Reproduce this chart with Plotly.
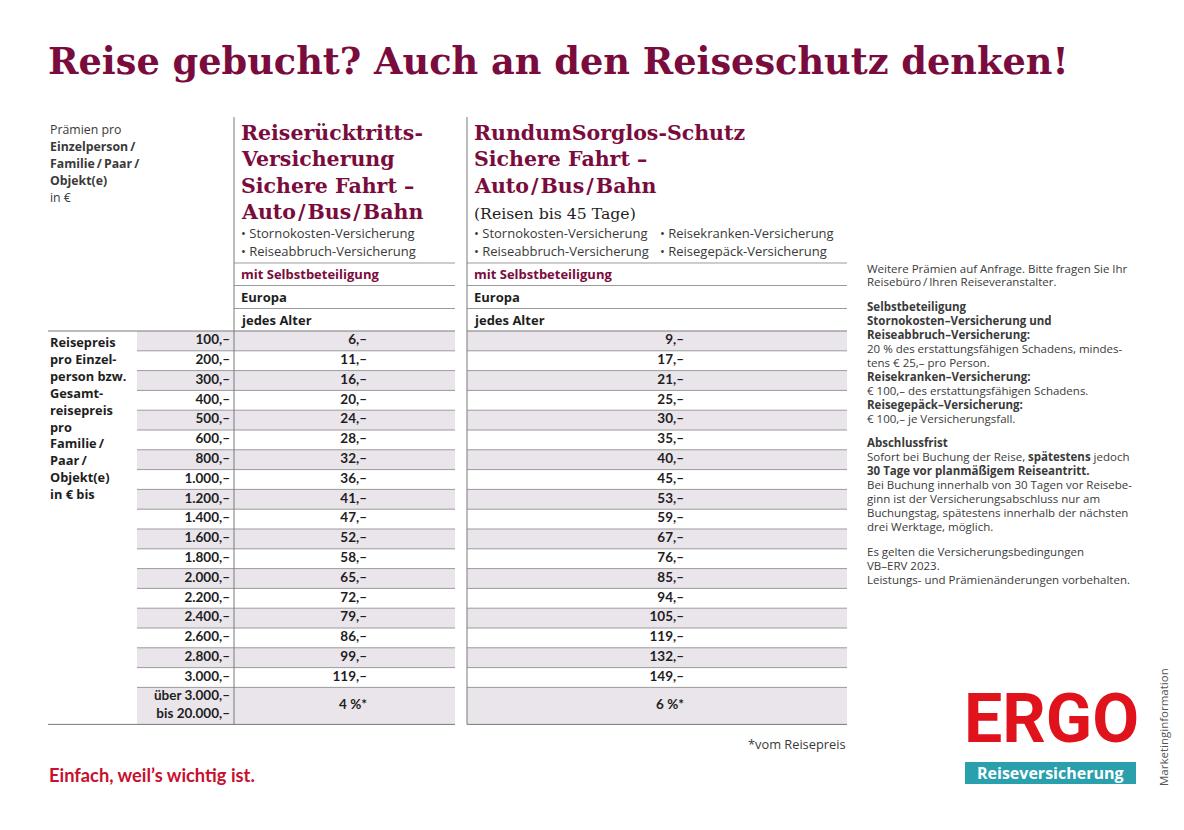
import plotly.graph_objects as go

# ---------------- data ----------------
reisepreis = ["100,–", "200,–", "300,–", "400,–", "500,–", "600,–", "800,–",
              "1.000,–", "1.200,–", "1.400,–", "1.600,–", "1.800,–", "2.000,–",
              "2.200,–", "2.400,–", "2.600,–", "2.800,–", "3.000,–",
              "über 3.000,–<br>bis 20.000,–"]
praemie_ruecktritt = [6, 11, 16, 20, 24, 28, 32, 36, 41, 47, 52, 58, 65, 72, 79, 86, 99, 119]
praemie_rundum = [9, 17, 21, 25, 30, 35, 40, 45, 53, 59, 67, 76, 85, 94, 105, 119, 132, 149]
prozent_ruecktritt = "4 %*"
prozent_rundum = "6 %*"

T = "\u2009"   # thin space
HS = "\u200a"  # hair space
title = "Reise gebucht? Auch an den Reiseschutz denken!"
head1 = ["Reiserücktritts-", "Versicherung", "Sichere Fahrt –", f"Auto{HS}/{HS}Bus{HS}/{HS}Bahn"]
head2 = ["RundumSorglos-Schutz", "Sichere Fahrt –", f"Auto{HS}/{HS}Bus{HS}/{HS}Bahn"]
head2_sub = "(Reisen bis 45 Tage)"
bullets1 = ["• Stornokosten-Versicherung", "• Reiseabbruch-Versicherung"]
bullets2a = ["• Stornokosten-Versicherung", "• Reiseabbruch-Versicherung"]
bullets2b = ["• Reisekranken-Versicherung", "• Reisegepäck-Versicherung"]
subrows = ["mit Selbstbeteiligung", "Europa", "jedes Alter"]
left_head = ["Prämien pro", f"<b>Einzelperson{T}/</b>", f"<b>Familie{T}/{T}Paar{T}/</b>", "<b>Objekt(e)</b>", "in €"]
row_label = ["Reisepreis", "pro Einzel-", "person bzw.", "Gesamt-", "reisepreis", "pro",
             f"Familie{T}/", f"Paar{T}/", "Objekt(e)", "in € bis"]
side_text = [
    "Weitere Prämien auf Anfrage. Bitte fragen Sie Ihr",
    f"Reisebüro{T}/{T}Ihren Reiseveranstalter.",
    None,
    "<b>Selbstbeteiligung</b>",
    "<b>Stornokosten–Versicherung und</b>",
    "<b>Reiseabbruch–Versicherung:</b>",
    "20 % des erstattungsfähigen Schadens, mindes-",
    "tens € 25,– pro Person.",
    "<b>Reisekranken–Versicherung:</b>",
    "€ 100,– des erstattungsfähigen Schadens.",
    "<b>Reisegepäck–Versicherung:</b>",
    "€ 100,– je Versicherungsfall.",
    None,
    "<b>Abschlussfrist</b>",
    "Sofort bei Buchung der Reise, <b>spätestens</b> jedoch",
    "<b>30 Tage vor planmäßigem Reiseantritt.</b>",
    "Bei Buchung innerhalb von 30 Tagen vor Reisebe-",
    "ginn ist der Versicherungsabschluss nur am",
    "Buchungstag, spätestens innerhalb der nächsten",
    "drei Werktage, möglich.",
    None,
    "Es gelten die Versicherungsbedingungen",
    "VB–ERV 2023.",
    "Leistungs- und Prämienänderungen vorbehalten.",
]

# ---------------- style / layout ----------------
W, H = 1184, 830
MAROON = "#7a0c3d"
RED = "#c8102e"
ERGO_RED = "#e0121c"
TEAL = "#2aa0ad"
SHADE = "#e9e5eb"
GRID = "#9b9b9b"
TXT = "#1e1e1e"
BODY = "#3a3a3a"
SANS = "'Open Sans', Lato, sans-serif"
NUM = "Lato, 'Open Sans', sans-serif"
SERIF = "'DejaVu Serif', serif"

X_LEFT = 48
X_PRICE = 137
X_C1, X_C1E = 234, 455
X_C2, X_C2E = 467, 847
ROW_TOP = 331
ROW_H = 19.8
LAST_H = 37

n = len(reisepreis)
row_top = [ROW_TOP + ROW_H * i for i in range(n)]
row_h = [ROW_H] * (n - 1) + [LAST_H]
row_c = [t + h / 2 for t, h in zip(row_top, row_h)]
row_bottom = row_top[-1] + row_h[-1]

vals1 = [f"{v},–" for v in praemie_ruecktritt] + [prozent_ruecktritt]
vals2 = [f"{v},–" for v in praemie_rundum] + [prozent_rundum]

fig = go.Figure()

# shaded rows as horizontal bars
shaded = [i for i in range(n) if i % 2 == 0]
for base, end in [(X_PRICE, X_C1), (X_C1, X_C1E), (X_C2, X_C2E)]:
    fig.add_trace(go.Bar(
        orientation="h",
        y=[row_c[i] for i in shaded],
        x=[end - base] * len(shaded),
        base=[base] * len(shaded),
        width=[row_h[i] for i in shaded],
        marker=dict(color=SHADE, line=dict(width=0)),
        hoverinfo="skip", showlegend=False,
    ))

# cell text
for xr, vals in [(230, reisepreis), (367, vals1), (684, vals2)]:
    fig.add_trace(go.Scatter(x=[xr] * n, y=row_c, mode="text", text=[f"<b>{t}</b>" for t in vals],
                             textposition="middle left", textfont=dict(family=NUM, size=13.5, color=TXT),
                             hoverinfo="skip", showlegend=False, cliponaxis=False))

shapes = []
def hline(x0, x1, y, color=GRID, w=1):
    shapes.append(dict(type="line", xref="x", yref="y", x0=x0, x1=x1, y0=y, y1=y,
                       line=dict(color=color, width=w), layer="above"))

# row grid lines
for i in range(1, n):
    hline(X_PRICE, X_C1E, row_top[i])
    hline(X_C2, X_C2E, row_top[i])
hline(X_LEFT, X_C1E, ROW_TOP, "#7a7a7a")
hline(X_C2, X_C2E, ROW_TOP, "#7a7a7a")
hline(X_LEFT, X_C1E, row_bottom, "#7a7a7a")
hline(X_C2, X_C2E, row_bottom, "#7a7a7a")
# header sub-row lines
for y in [263, 285.5, 308.5]:
    hline(X_C1, X_C1E, y)
    hline(X_C2, X_C2E, y)
# vertical lines
for x in [X_C1, X_C2]:
    shapes.append(dict(type="line", xref="x", yref="y", x0=x, x1=x, y0=117, y1=row_bottom,
                       line=dict(color="#7a7a7a", width=1), layer="above"))
# teal logo box
shapes.append(dict(type="rect", xref="x", yref="y", x0=965, x1=1136, y0=762, y1=784,
                   fillcolor=TEAL, line=dict(width=0), layer="below"))

ann = []
def text(x, y, t, size, color=TXT, family=SANS, xanchor="left", yanchor="middle", **kw):
    ann.append(dict(x=x, y=y, xref="x", yref="y", text=t, showarrow=False,
                    xanchor=xanchor, yanchor=yanchor, align=xanchor if xanchor != "center" else "center",
                    font=dict(size=size, color=color, family=family), **kw))

# title
text(46, 61, f"<b>{title}</b>", 36.7, MAROON, SERIF)

# left header
for k, t in enumerate(left_head):
    text(X_LEFT, 129 + 17 * k, t, 12.3, BODY)
for k, t in enumerate(row_label):
    text(X_LEFT, 342 + 16.9 * k, f"<b>{t}</b>", 12.8, TXT)

# column headings
for k, t in enumerate(head1):
    text(239, 133 + 26.4 * k, f"<b>{t}</b>", 20.5, MAROON, SERIF)
for k, t in enumerate(head2):
    text(472, 133 + 26.4 * k, f"<b>{t}</b>", 20.5, MAROON, SERIF)
text(472, 213, head2_sub, 15.7, TXT, SERIF)
for k, t in enumerate(bullets1):
    text(239, 233 + 18 * k, t, 13, BODY)
for k, t in enumerate(bullets2a):
    text(472, 233 + 18 * k, t, 13, BODY)
for k, t in enumerate(bullets2b):
    text(658, 233 + 18 * k, t, 13, BODY)
for k, t in enumerate(subrows):
    c = MAROON if k == 0 else TXT
    text(239, 274 + 23 * k, f"<b>{t}</b>", 13, c)
    text(472, 274 + 23 * k, f"<b>{t}</b>", 13, c)

# side text block
y = 268
for t in side_text:
    if t is None:
        y += 11
        continue
    text(865, y, t, 11.5, BODY)
    y += 13.9

# footnote and slogan
text(847, 744, "*vom Reisepreis", 12.8, BODY, xanchor="right")
text(47, 775, "<b>Einfach, weil’s wichtig ist.</b>", 18.3, RED, NUM)

# logo
text(1051, 719, "<b>ERGO</b>", 68, ERGO_RED, "Roboto, 'Liberation Sans', sans-serif", xanchor="center")
text(1050, 773, "<b>Reiseversicherung</b>", 16, "white", SANS, xanchor="center")
text(1163, 727, "Marketinginformation", 11.5, "#555555", SANS, xanchor="center", textangle=-90)

fig.update_layout(
    width=W, height=H, margin=dict(l=0, r=0, t=0, b=0),
    paper_bgcolor="white", plot_bgcolor="white",
    xaxis=dict(range=[0, W], visible=False, fixedrange=True),
    yaxis=dict(range=[H, 0], visible=False, fixedrange=True),
    barmode="overlay", shapes=shapes, annotations=ann, showlegend=False,
)
fig.write_html("out.html", config={"displayModeBar": False},
               post_script="document.body.style.margin='0';document.body.style.overflow='hidden';")
